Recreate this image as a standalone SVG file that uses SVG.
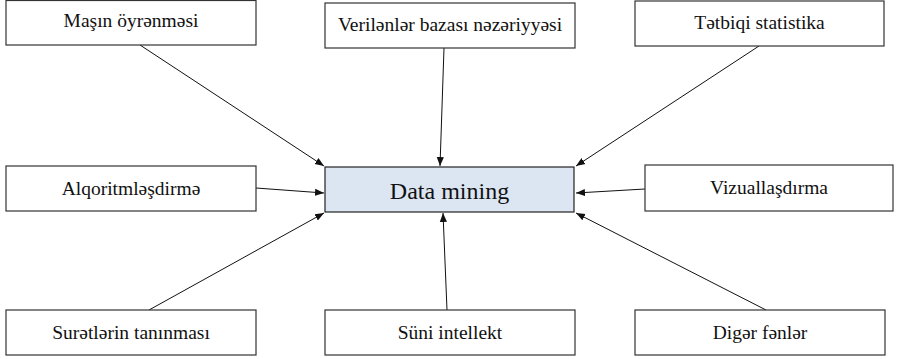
<svg xmlns="http://www.w3.org/2000/svg" width="897" height="359" viewBox="0 0 897 359">
<style>
.box{fill:#ffffff;stroke:#333333;stroke-width:1.2}
.main{fill:#dce6f2;stroke:#222222;stroke-width:1.2}
.t{font-family:"Liberation Serif","Times New Roman",serif;font-size:19.5px;fill:#111111;text-anchor:middle}
.tm{font-family:"Liberation Serif","Times New Roman",serif;font-size:24px;fill:#111111;text-anchor:middle}
.c{stroke:#111111;stroke-width:1;fill:none;marker-end:url(#ah)}
</style>
<defs>
<marker id="ah" viewBox="0 0 10 10" refX="10" refY="5" markerWidth="9" markerHeight="9" markerUnits="userSpaceOnUse" orient="auto">
<path d="M0,1 L10,5 L0,9 z" fill="#111111"/>
</marker>
</defs>
<rect width="897" height="359" fill="#ffffff"/>
<g id="connectors">
<line class="c" x1="140" y1="45" x2="324" y2="166"/>
<line class="c" x1="444" y1="48" x2="440" y2="166"/>
<line class="c" x1="759" y1="46" x2="576" y2="166"/>
<line class="c" x1="256" y1="188" x2="324" y2="193"/>
<line class="c" x1="645" y1="189" x2="576" y2="193"/>
<line class="c" x1="149" y1="310" x2="324" y2="213"/>
<line class="c" x1="447" y1="310" x2="443" y2="213"/>
<line class="c" x1="766" y1="310" x2="576" y2="213"/>
</g>
<g id="n-masin"><rect class="box" x="6" y="0.5" width="250" height="44.5"/><text class="t" x="131" y="27">Maşın öyrənməsi</text></g>
<g id="n-verilenler"><rect class="box" x="325" y="3" width="250" height="45"/><text class="t" x="450" y="31">Verilənlər bazası nəzəriyyəsi</text></g>
<g id="n-tetbiqi"><rect class="box" x="635" y="1" width="249" height="45"/><text class="t" x="759.5" y="29">Tətbiqi statistika</text></g>
<g id="n-alqoritm"><rect class="box" x="6" y="166" width="250" height="45"/><text class="t" x="131" y="194.5">Alqoritmləşdirmə</text></g>
<g id="n-data"><rect class="main" x="325" y="167" width="249" height="45"/><text class="tm" x="449.5" y="199">Data mining</text></g>
<g id="n-vizual"><rect class="box" x="645" y="165" width="248" height="46"/><text class="t" x="769" y="194">Vizuallaşdırma</text></g>
<g id="n-suret"><rect class="box" x="6" y="310" width="250" height="45"/><text class="t" x="131" y="338.5">Surətlərin tanınması</text></g>
<g id="n-suni"><rect class="box" x="325" y="310" width="250" height="45"/><text class="t" x="450" y="338.5">Süni intellekt</text></g>
<g id="n-diger"><rect class="box" x="635" y="310" width="250" height="45"/><text class="t" x="760" y="338.5">Digər fənlər</text></g>
</svg>
